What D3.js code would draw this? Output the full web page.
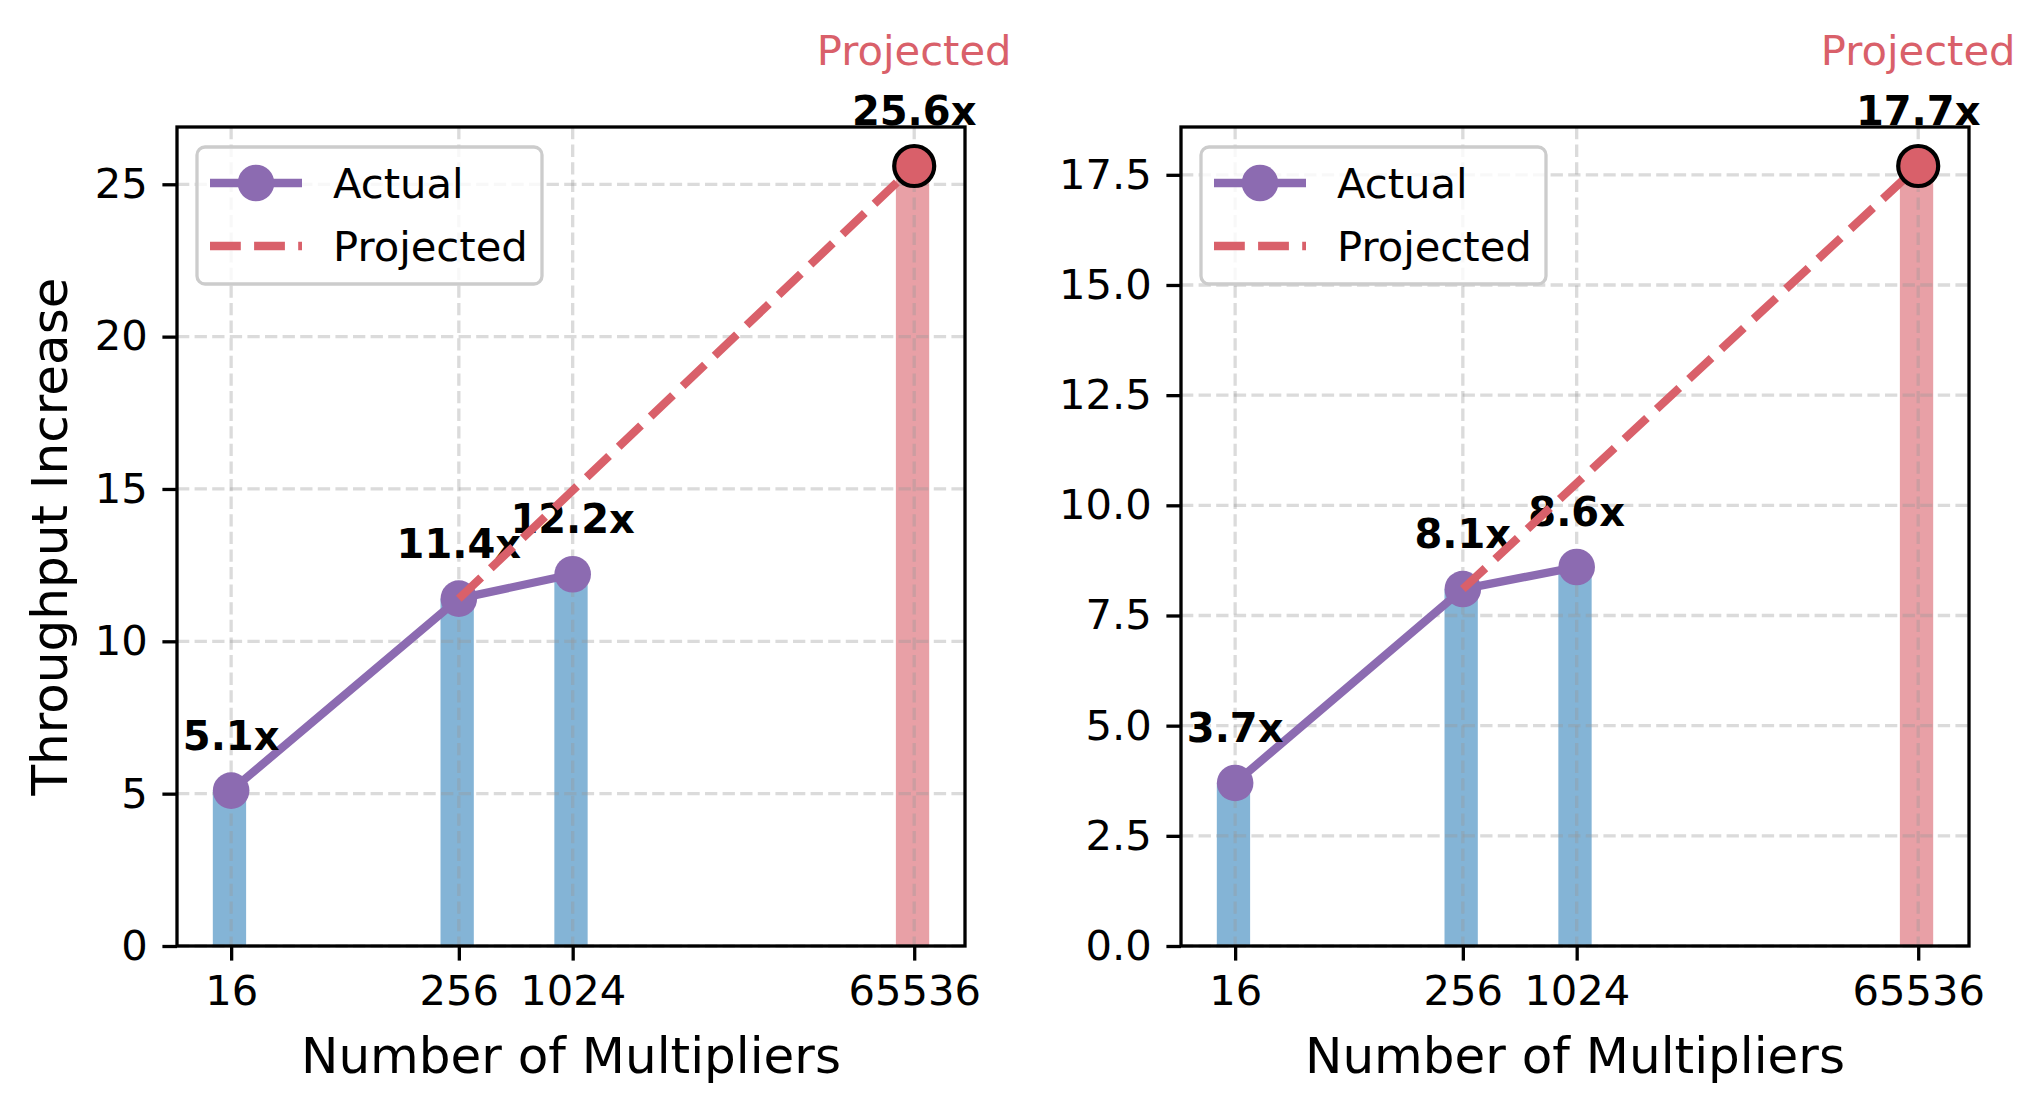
<!DOCTYPE html>
<html>
<head>
<meta charset="utf-8">
<script src="https://cdn.jsdelivr.net/npm/d3@7"></script>
<style>
  body { margin: 0; background: #fff; }
  text { font-family: "DejaVu Sans", sans-serif; }
</style>
</head>
<body>
<svg id="chart"></svg>
<script>
const width = 2043;
const height = 1112;

// data
const multipliers = [16, 256, 1024, 65536];
const leftValues = [5.1, 11.4, 12.2, 25.6];
const rightValues = [3.7, 8.1, 8.6, 17.7];
const projectedFlags = [false, false, false, true];
const projectionStart = 256; // dashed projection is drawn from this point
const leftYTicks = [0, 5, 10, 15, 20, 25];
const rightYTicks = [0, 2.5, 5, 7.5, 10, 12.5, 15, 17.5];
const xLabel = "Number of Multipliers";
const yLabel = "Throughput Increase";
const legendLabels = ["Actual", "Projected"];

const purple = "#8c6bb1";
const red = "#d9606a";
const blue = "#1f77b4";

const svg = d3.select("#chart")
  .attr("width", width)
  .attr("height", height);

const panelW = 788;
const panelH = 819;

function drawPanel(left, top, values, yTicks, yFmt, showYLabel) {
  const g = svg.append("g").attr("transform", `translate(${left},${top})`);

  // log2 x with 5% margins around the bar extents, like matplotlib autoscale
  const lo = Math.log2(multipliers[0] * 0.8);
  const hi = Math.log2(multipliers[multipliers.length - 1] * 1.2);
  const pad = (hi - lo) * 0.05;
  const x = d3.scaleLog().base(2)
    .domain([Math.pow(2, lo - pad), Math.pow(2, hi + pad)])
    .range([0, panelW]);

  const yMax = d3.max(values) * 1.05;
  const y = d3.scaleLinear().domain([0, yMax]).range([panelH, 0]);

  const rows = multipliers.map((m, i) => ({ m: m, v: values[i], proj: projectedFlags[i] }));

  // bars
  g.selectAll("rect.bar")
    .data(rows)
    .enter()
    .append("rect")
    .attr("class", "bar")
    .attr("x", d => x(d.m * 0.8))
    .attr("width", d => x(d.m * 1.2) - x(d.m * 0.8))
    .attr("y", d => y(d.v))
    .attr("height", d => panelH - y(d.v))
    .attr("fill", d => d.proj ? red : blue)
    .attr("fill-opacity", d => d.proj ? 0.6 : 0.55);

  // grid
  g.selectAll("line.hgrid")
    .data(yTicks)
    .enter()
    .append("line")
    .attr("x1", 0).attr("x2", panelW)
    .attr("y1", d => y(d)).attr("y2", d => y(d))
    .attr("stroke", "#999").attr("stroke-opacity", 0.35)
    .attr("stroke-width", 3.3)
    .attr("stroke-dasharray", "12.3,5.3");

  g.selectAll("line.vgrid")
    .data(multipliers)
    .enter()
    .append("line")
    .attr("y1", 0).attr("y2", panelH)
    .attr("x1", d => x(d)).attr("x2", d => x(d))
    .attr("stroke", "#999").attr("stroke-opacity", 0.35)
    .attr("stroke-width", 3.3)
    .attr("stroke-dasharray", "12.3,5.3");

  // actual line
  const actual = rows.filter(d => !d.proj);
  const line = d3.line().x(d => x(d.m)).y(d => y(d.v));

  g.append("path")
    .datum(actual)
    .attr("d", line)
    .attr("fill", "none")
    .attr("stroke", purple)
    .attr("stroke-width", 8.3);

  g.selectAll("circle.actual")
    .data(actual)
    .enter()
    .append("circle")
    .attr("cx", d => x(d.m))
    .attr("cy", d => y(d.v))
    .attr("r", 18.3)
    .attr("fill", purple);

  // value labels
  g.selectAll("text.val")
    .data(rows)
    .enter()
    .append("text")
    .attr("x", d => x(d.m))
    .attr("y", d => y(d.v) - 41)
    .attr("text-anchor", "middle")
    .attr("font-size", "40px")
    .attr("font-weight", "bold")
    .attr("fill", "#000")
    .text(d => d.v.toFixed(1) + "x");

  // projected dashed line
  const projRows = rows.filter(d => d.m === projectionStart).concat(rows.filter(d => d.proj));
  g.append("path")
    .datum(projRows)
    .attr("d", line)
    .attr("fill", "none")
    .attr("stroke", red)
    .attr("stroke-width", 8.3)
    .attr("stroke-dasharray", "30.8,13.3");

  g.selectAll("circle.proj")
    .data(rows.filter(d => d.proj))
    .enter()
    .append("circle")
    .attr("cx", d => x(d.m))
    .attr("cy", d => y(d.v))
    .attr("r", 20)
    .attr("fill", red)
    .attr("stroke", "#000")
    .attr("stroke-width", 4.2);

  g.selectAll("text.projlabel")
    .data(rows.filter(d => d.proj))
    .enter()
    .append("text")
    .attr("x", d => x(d.m))
    .attr("y", d => y(d.v * 1.13))
    .attr("text-anchor", "middle")
    .attr("font-size", "41.7px")
    .attr("fill", red)
    .text("Projected");

  // axes
  const yAxis = d3.axisLeft(y)
    .tickValues(yTicks)
    .tickFormat(yFmt)
    .tickSize(14.6)
    .tickPadding(14.6);
  const xAxis = d3.axisBottom(x)
    .tickValues(multipliers)
    .tickFormat(d => String(d))
    .tickSize(14.6)
    .tickPadding(14.6);

  const ya = g.append("g").call(yAxis);
  const xa = g.append("g").attr("transform", `translate(0,${panelH})`).call(xAxis);
  [ya, xa].forEach(a => {
    a.select(".domain").remove();
    a.selectAll(".tick line").attr("stroke", "#000").attr("stroke-width", 3.3);
    a.selectAll(".tick text")
      .attr("font-family", "DejaVu Sans, sans-serif")
      .attr("font-size", "41.7px")
      .attr("fill", "#000");
  });

  // spines
  g.append("rect")
    .attr("width", panelW)
    .attr("height", panelH)
    .attr("fill", "none")
    .attr("stroke", "#000")
    .attr("stroke-width", 3.3);

  // axis labels
  g.append("text")
    .attr("x", panelW / 2)
    .attr("y", 1073 - top)
    .attr("text-anchor", "middle")
    .attr("font-size", "50px")
    .attr("fill", "#000")
    .text(xLabel);

  if (showYLabel) {
    g.append("text")
      .attr("transform", `translate(${67 - left},${panelH / 2}) rotate(-90)`)
      .attr("text-anchor", "middle")
      .attr("font-size", "50px")
      .attr("fill", "#000")
      .text(yLabel);
  }

  // legend
  const lg = g.append("g").attr("transform", "translate(20,20)");
  lg.append("rect")
    .attr("width", 345)
    .attr("height", 137)
    .attr("rx", 8)
    .attr("fill", "#fff")
    .attr("fill-opacity", 0.8)
    .attr("stroke", "#cccccc")
    .attr("stroke-width", 3.3);

  lg.append("line")
    .attr("x1", 13).attr("x2", 105)
    .attr("y1", 36).attr("y2", 36)
    .attr("stroke", purple).attr("stroke-width", 8.3);
  lg.append("circle")
    .attr("cx", 59).attr("cy", 36).attr("r", 18.3)
    .attr("fill", purple);
  lg.append("line")
    .attr("x1", 13).attr("x2", 105)
    .attr("y1", 99).attr("y2", 99)
    .attr("stroke", red).attr("stroke-width", 8.3)
    .attr("stroke-dasharray", "30.8,13.3");

  lg.selectAll("text.leg")
    .data(legendLabels)
    .enter()
    .append("text")
    .attr("x", 136)
    .attr("y", (d, i) => 36 + i * 63 + 15)
    .attr("font-size", "41.7px")
    .attr("fill", "#000")
    .text(d => d);
}

drawPanel(177, 127, leftValues, leftYTicks, d => String(d), true);
drawPanel(1181, 127, rightValues, rightYTicks, d => d.toFixed(1), false);
</script>
</body>
</html>
